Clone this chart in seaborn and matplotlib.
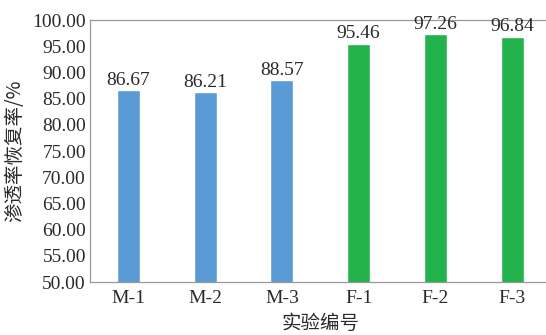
import matplotlib
matplotlib.use("Agg")
import matplotlib.pyplot as plt
import seaborn as sns
import pandas as pd
from matplotlib.ticker import FixedLocator

sns.set_style("white")
plt.rcParams['font.family'] = ['Liberation Serif', 'Noto Sans CJK SC']

# data
samples = ["M-1", "M-2", "M-3", "F-1", "F-2", "F-3"]
recovery = [86.67, 86.21, 88.57, 95.46, 97.26, 96.84]
groups = ["M", "M", "M", "F", "F", "F"]
group_colors = {"M": "#5B9BD5", "F": "#21B24B"}

df = pd.DataFrame({"sample": samples, "value": recovery, "group": groups})

fig = plt.figure(figsize=(5.46, 3.35), dpi=100)
ax = fig.add_axes([0.165, 0.158, 0.843, 0.782])

sns.barplot(data=df, x="sample", y="value", hue="group", palette=group_colors,
            dodge=False, width=0.3, legend=False, ax=ax, saturation=1)

for c in ax.containers:
    ax.bar_label(c, fmt="%.2f", fontsize=14, color="#2a2a2a", padding=1)

ax.set_ylim(50, 100)
ax.set_yticks(range(50, 101, 5))
ax.set_yticklabels([f"{v:.2f}" for v in range(50, 101, 5)])
ax.set_xlim(-0.5, len(samples) - 0.5)

# ticks between categories
ax.xaxis.set_minor_locator(FixedLocator([i + 0.5 for i in range(len(samples) - 1)]))
ax.tick_params(axis="x", which="major", length=0, labelsize=14, pad=6, labelcolor="#2a2a2a")
ax.tick_params(axis="x", which="minor", length=4, direction="in", color="#888888")
ax.tick_params(axis="y", length=4, direction="in", labelsize=14, pad=3,
               labelcolor="#2a2a2a", color="#888888")

for side in ["left", "bottom", "top", "right"]:
    ax.spines[side].set_color("#999999")
    ax.spines[side].set_linewidth(0.9)

ax.set_xlabel("实验编号", fontsize=14, family=["Noto Sans CJK SC"], color="#2a2a2a", labelpad=4)
ax.set_ylabel("渗透率恢复率/%", fontsize=14, family=["Noto Sans CJK SC", "Liberation Serif"],
              color="#2a2a2a", labelpad=5)

fig.savefig("out.png", dpi=100)
